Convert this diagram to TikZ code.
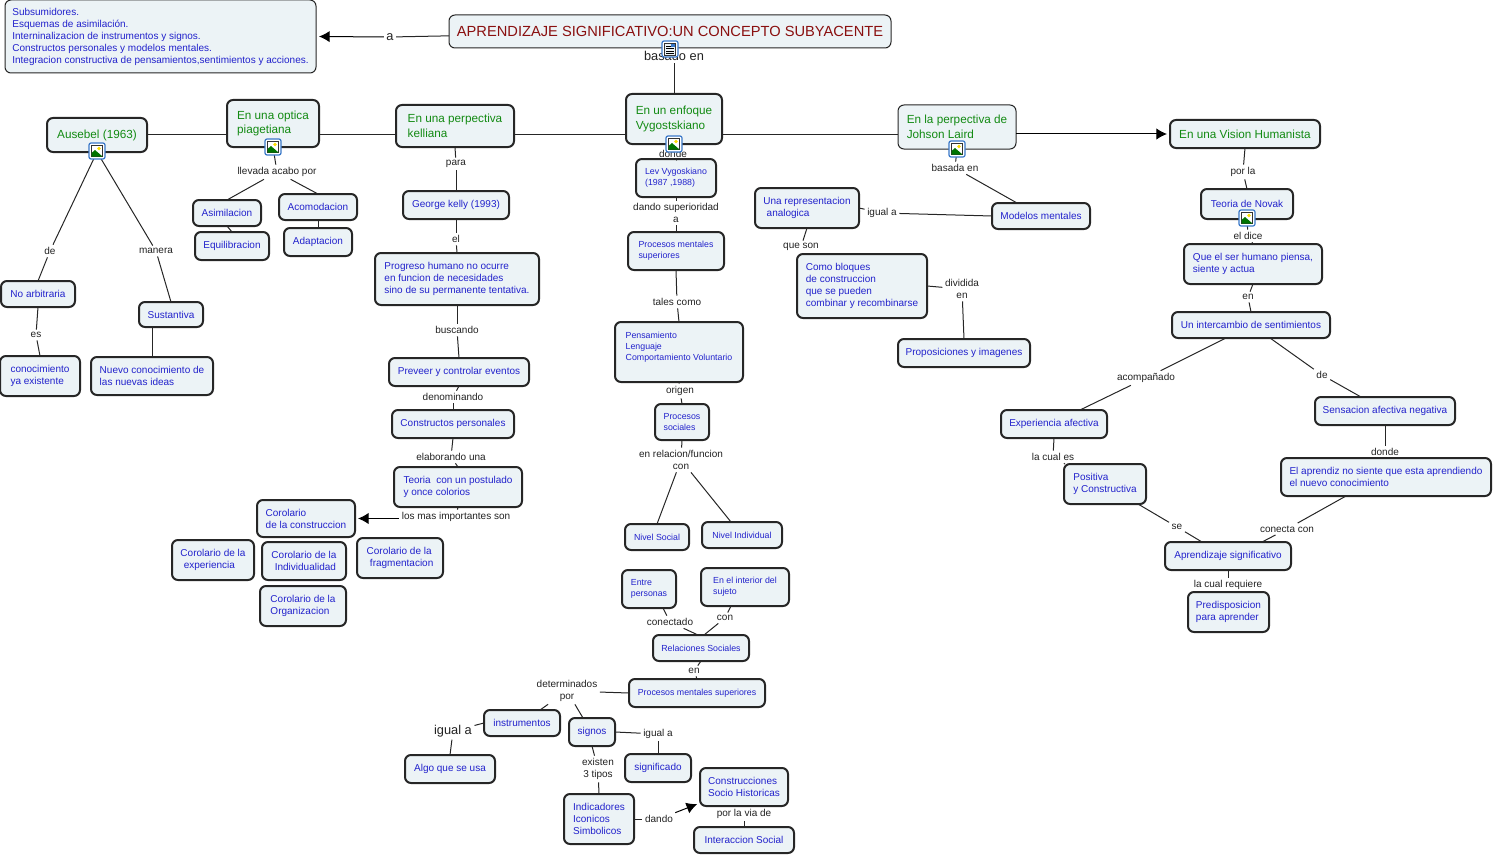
\documentclass[tikz,border=0pt]{standalone}
\usepackage{fontspec}
\setmainfont{Liberation Sans}
\usetikzlibrary{arrows.meta}
\definecolor{boxfill}{HTML}{ECF3F6}
\definecolor{boxblue}{HTML}{2222CC}
\definecolor{boxgreen}{HTML}{128A12}
\definecolor{boxred}{HTML}{8A1010}
\definecolor{labelgray}{HTML}{222222}
\definecolor{iconblue}{HTML}{3A78C8}
\tikzset{
  dim/.style 2 args={minimum width=#1*0.75pt, minimum height=#2*0.75pt},
  concept/.style={draw=black!85, fill=boxfill, rounded corners=4.5pt, line width=1.5pt, inner sep=0pt, outer sep=0pt,
    align=left, text=boxblue, font=\fontsize{7.5}{9}\selectfont},
  small/.style={font=\fontsize{6.6}{8.3}\selectfont},
  branch/.style={text=boxgreen, font=\fontsize{8.8}{11}\selectfont},
  thinbox/.style={line width=0.75pt},
  linkname/.style={text=labelgray, inner sep=2pt, outer sep=0pt, align=center, yshift=-0.75pt, font=\fontsize{7.5}{9}\selectfont},
  bigname/.style={font=\fontsize{9.6}{11}\selectfont},
  link/.style={draw=black!85, line width=0.75pt},
  toarrow/.style={draw=black, line width=0.75pt, -{Latex[length=8pt,width=8.5pt]}, shorten >=2.25pt},
  imgicon/.pic={
    \draw[iconblue, fill=white, line width=0.9pt, rounded corners=1.5pt] (-8,-8) rectangle (8,8);
    \draw[black!80, fill=white, line width=0.7pt] (-5.5,-5.5) rectangle (5.5,5.5);
    \fill[yellow!80!orange] (2,-2.5) circle (1.8);
    \fill[green!45!black] (-5.5,5.5) -- (-5.5,2) -- (-2,-1) -- (5.5,5.5) -- cycle;
  },
  docicon/.pic={
    \draw[iconblue, fill=white, line width=0.9pt, rounded corners=1.5pt] (-8,-8) rectangle (8,8);
    \draw[black!80, fill=boxfill, line width=0.7pt] (-5.5,-6) rectangle (5.5,6);
    \foreach \ypos in {-3,-0.5,2,4} \draw[black, line width=0.6pt] (-4,\ypos) -- (4,\ypos);
    \fill[iconblue] (1,-5) rectangle (4.5,-1.5);
  }
}
\begin{document}
\begin{tikzpicture}[x=0.75pt,y=-0.75pt]
\useasboundingbox (0,0) rectangle (1493,856);

% top of the map
\node[concept,thinbox,dim={442}{33},text=boxred,font=\fontsize{11}{13}\selectfont] (title) at (670,31.5) {APRENDIZAJE SIGNIFICATIVO:UN CONCEPTO SUBYACENTE};
\node[concept,thinbox,dim={311}{73}] (info) at (160.5,36.5) {Subsumidores.\\Esquemas de asimilación.\\Interninalizacion de instrumentos y signos.\\Constructos personales y modelos mentales.\\Integracion constructiva de pensamientos,sentimientos y acciones.};

% branches
\node[concept,branch,dim={100}{34}] (ausebel) at (97,135) {Ausebel (1963)};
\node[concept,branch,dim={92}{47}] (piaget) at (273,123.5) {En una optica\\piagetiana};
\node[concept,branch,dim={118}{42}] (kelly) at (455,126) {En una perpectiva\\kelliana};
\node[concept,branch,dim={96}{50}] (vygotsky) at (674,119) {En un enfoque\\Vygostskiano};
\node[concept,branch,thinbox,dim={118}{44}] (laird) at (957,127) {En la perpectiva de\\Johson Laird};
\node[concept,branch,dim={150}{28}] (humanista) at (1245,134) {En una Vision Humanista};

% ausebel
\node[concept,dim={74}{26}] (noarbitraria) at (38,294) {No arbitraria};
\node[concept,dim={80}{40}] (conocimiento) at (40,376) {conocimiento\\ya existente};
\node[concept,dim={64}{25}] (sustantiva) at (171,314.5) {Sustantiva};
\node[concept,dim={122}{38}] (nuevo) at (152,376) {Nuevo conocimiento de\\las nuevas ideas};

% piaget
\node[concept,dim={68}{26}] (asimilacion) at (227,213) {Asimilacion};
\node[concept,dim={74}{28}] (equilibracion) at (232,246) {Equilibracion};
\node[concept,dim={78}{26}] (acomodacion) at (318,207) {Acomodacion};
\node[concept,dim={68}{28}] (adaptacion) at (318,242) {Adaptacion};

% kelly
\node[concept,dim={106}{28}] (george) at (456,205) {George kelly (1993)};
\node[concept,dim={164}{52}] (progreso) at (457,279) {Progreso humano no ocurre\\en funcion de necesidades\\sino de su permanente tentativa.};
\node[concept,dim={140}{28}] (preveer) at (459,372) {Preveer y controlar eventos};
\node[concept,dim={122}{28}] (constructos) at (453,424) {Constructos personales};
\node[concept,dim={128}{40}] (teoria) at (458,487) {Teoria\ \ con un postulado\\y once colorios};
\node[concept,dim={98}{37}] (corconstruccion) at (306,518.5) {Corolario\\de la construccion};
\node[concept,dim={82}{40}] (corexperiencia) at (213,560) {Corolario de la\\\hspace{2.5pt}experiencia};
\node[concept,dim={84}{38}] (corindividual) at (304,561) {Corolario de la\\\hspace{2.5pt}Individualidad};
\node[concept,dim={86}{40}] (corfragmento) at (400,558) {Corolario de la\\\hspace{2.5pt}fragmentacion};
\node[concept,dim={86}{40}] (cororganiza) at (303,606) {Corolario de la\\Organizacion};

% vygotsky
\node[concept,small,dim={80}{38}] (lev) at (676,178) {Lev Vygoskiano\\(1987 ,1988)};
\node[concept,small,dim={96}{38}] (superiores) at (676,251) {Procesos mentales\\superiores};
\node[concept,small,dim={128}{60}] (pensamiento) at (679,352) {Pensamiento\\Lenguaje\\Comportamiento Voluntario\\~};
\node[concept,small,dim={54}{36}] (psociales) at (682,422) {Procesos\\sociales};
\node[concept,small,dim={64}{26}] (nivelsocial) at (657,537) {Nivel Social};
\node[concept,small,dim={80}{26}] (nivelindividual) at (742,535) {Nivel Individual};
\node[concept,small,dim={54}{38}] (entre) at (649,589) {Entre\\personas};
\node[concept,small,dim={88}{38}] (interior) at (745,587) {En el interior del\\sujeto};
\node[concept,small,dim={96}{26}] (relaciones) at (701,648) {Relaciones Sociales};
\node[concept,small,dim={136}{28}] (superiores2) at (697,693) {Procesos mentales superiores};
\node[concept,dim={76}{26}] (instrumentos) at (522,723) {instrumentos};
\node[concept,dim={46}{28}] (signos) at (592,732) {signos};
\node[concept,dim={90}{28}] (algo) at (450,769) {Algo que se usa};
\node[concept,dim={66}{28}] (significado) at (658,768) {significado};
\node[concept,dim={70}{50}] (indicadores) at (599,819) {Indicadores\\Iconicos\\Simbolicos};
\node[concept,dim={88}{38}] (historicas) at (744,787) {Construcciones\\Socio Historicas};
\node[concept,dim={100}{26}] (interaccion) at (744,840) {Interaccion Social};

% laird
\node[concept,dim={104}{40}] (representacion) at (807,208) {Una representacion\\\hspace{2.5pt}analogica};
\node[concept,dim={130}{64}] (bloques) at (862,286) {Como bloques\\de construccion\\que se pueden\\combinar y recombinarse};
\node[concept,dim={98}{26}] (modelos) at (1041,216) {Modelos mentales};
\node[concept,dim={132}{28}] (proposiciones) at (964,353) {Proposiciones y imagenes};

% humanista
\node[concept,dim={92}{30}] (novak) at (1247,204) {Teoria de Novak};
\node[concept,dim={138}{40}] (piensa) at (1253,264) {Que el ser humano piensa,\\siente y actua};
\node[concept,dim={158}{26}] (intercambio) at (1251,325) {Un intercambio de sentimientos};
\node[concept,dim={106}{28}] (experiencia) at (1054,424) {Experiencia afectiva};
\node[concept,dim={140}{28}] (sensacion) at (1385,411) {Sensacion afectiva negativa};
\node[concept,dim={210}{38}] (aprendiz) at (1386,477) {El aprendiz no siente que esta aprendiendo\\el nuevo conocimiento};
\node[concept,dim={82}{40}] (positiva) at (1105,484) {Positiva\\y Constructiva};
\node[concept,dim={126}{28}] (significativo) at (1228,556) {Aprendizaje significativo};
\node[concept,dim={81}{40}] (predisposicion) at (1228.5,612) {Predisposicion\\para aprender};

% linking phrases
\node[linkname,bigname] (la) at (390,36) {a};
\node[linkname,bigname] (lbasado) at (674,55) {basado en};
\node[linkname] (lde) at (50,250) {de};
\node[linkname] (lmanera) at (156,250) {manera};
\node[linkname] (les) at (36,334) {es};
\node[linkname] (lllevada) at (277,171) {llevada acabo por};
\node[linkname] (lpara) at (456,163) {para};
\node[linkname] (lel) at (456,238) {el};
\node[linkname] (lbuscando) at (457,329) {buscando};
\node[linkname] (ldenominando) at (453,396) {denominando};
\node[linkname] (lelaborando) at (451,456) {elaborando una};
\node[linkname] (limportantes) at (456,516) {los mas importantes son};
\node[linkname] (ldonde) at (673,153) {donde};
\node[linkname] (ldando) at (676,212) {dando superioridad\\a};
\node[linkname] (ltales) at (677,301) {tales como};
\node[linkname] (lorigen) at (680,390) {origen};
\node[linkname] (lrelacion) at (681,459) {en relacion/funcion\\con};
\node[linkname] (lconectado) at (670,621) {conectado};
\node[linkname] (lcon) at (725,617) {con};
\node[linkname] (len) at (694,670) {en};
\node[linkname] (ldeterminados) at (567,690) {determinados\\por};
\node[linkname,bigname] (liguala) at (453,730) {igual a};
\node[linkname] (lsignificado) at (658,733) {igual a};
\node[linkname] (lexisten) at (598,768) {existen\\3 tipos};
\node[linkname] (ldandolo) at (659,818) {dando};
\node[linkname] (lvia) at (744,813) {por la via de};
\node[linkname] (lanalogo) at (882,212) {igual a};
\node[linkname] (lqueson) at (801,246) {que son};
\node[linkname] (lbasada) at (955,167) {basada en};
\node[linkname] (ldividida) at (962,288) {dividida\\en};
\node[linkname] (lporla) at (1243,171) {por la};
\node[linkname] (ldice) at (1248,235) {el dice};
\node[linkname] (lensiente) at (1248,296) {en};
\node[linkname] (lacompanado) at (1146,377) {acompañado};
\node[linkname] (ldenegativa) at (1322,374) {de};
\node[linkname] (lcual) at (1053,456) {la cual es};
\node[linkname] (ldondenuevo) at (1385,451) {donde};
\node[linkname] (lse) at (1177,526) {se};
\node[linkname] (lconecta) at (1287,528) {conecta con};
\node[linkname] (lrequiere) at (1228,584) {la cual requiere};

% straight chains, anchor to anchor
\foreach \a/\b in {ausebel/piaget,piaget/kelly,kelly/vygotsky,vygotsky/laird}
  \draw[link] (\a.east |- ausebel) -- (\b.west |- ausebel);
\draw[toarrow] (laird.east |- humanista) -- (humanista.west);
\draw[toarrow] (limportantes.west |- corconstruccion) -- (corconstruccion.east);
\draw[toarrow] (la) -- (info.east);
\draw[toarrow] (ldandolo) -- ([yshift=2.25pt]historicas.south west);

% from a concept down to its phrase
\foreach \a/\b in {ausebel/lde,ausebel/lmanera,piaget/lllevada,kelly/lpara,george/lel,progreso/lbuscando,
  preveer/ldenominando,constructos/lelaborando,teoria/limportantes,noarbitraria/les,lev/ldando,superiores/ltales,
  pensamiento/lorigen,psociales/lrelacion,relaciones/len,signos/lexisten,historicas/lvia,representacion/lqueson,
  laird/lbasada,humanista/lporla,novak/ldice,piensa/lensiente,experiencia/lcual,sensacion/ldondenuevo,
  significativo/lrequiere,vygotsky/ldonde}
  \draw[link] (\a.south) -- (\b);

% from a phrase down to its concept
\foreach \a/\b in {lde/noarbitraria,lmanera/sustantiva,les/conocimiento,lllevada/asimilacion,lllevada/acomodacion,
  lpara/george,lel/progreso,lbuscando/preveer,ldenominando/constructos,lelaborando/teoria,ldonde/lev,ldando/superiores,
  ltales/pensamiento,lorigen/psociales,lrelacion/nivelsocial,len/superiores2,lsignificado/significado,liguala/algo,
  lexisten/indicadores,lvia/interaccion,lporla/novak,ldice/piensa,lensiente/intercambio,ldondenuevo/aprendiz,
  lrequiere/predisposicion,ldividida/proposiciones,lbasado/vygotsky}
  \draw[link] (\a) -- (\b.north);

% the rest leave or reach a box off its middle
\draw[link] (title) -- (la);
\draw[link] (title) -- (lbasado);
\draw[link] (sustantiva.south -| nuevo.north) -- (nuevo.north);
\draw[link] (asimilacion.south) -- (equilibracion.north);
\draw[link] (acomodacion.south) -- (adaptacion.north);
\draw[link] (lrelacion) -- ([xshift=-8.25pt]nivelindividual.north);
\draw[link] (lconectado) -- ([xshift=10.5pt]entre.south);
\draw[link] (lcon) -- ([xshift=-10.5pt]interior.south);
\draw[link] (lconectado) -- ([xshift=-2.25pt]relaciones.north);
\draw[link] (lcon) -- ([xshift=2.25pt]relaciones.north);
\draw[link] (superiores2.west) -- (ldeterminados);
\draw[link] (ldeterminados) -- ([xshift=13.5pt]instrumentos.north);
\draw[link] (ldeterminados) -- ([xshift=-6.75pt]signos.north);
\draw[link] (instrumentos.west) -- (liguala);
\draw[link] (signos.east) -- (lsignificado);
\draw[link] (indicadores.east) -- (ldandolo);
\draw[link] (representacion.east) -- (lanalogo);
\draw[link] (lanalogo) -- (modelos.west);
\draw[link] (lqueson) -- ([xshift=-39pt]bloques.north);
\draw[link] (bloques.east) -- (ldividida);
\draw[link] (lbasada) -- ([xshift=-18pt]modelos.north);
\draw[link] ([xshift=-18.75pt]intercambio.south) -- (lacompanado);
\draw[link] (lacompanado) -- ([xshift=19.5pt]experiencia.north);
\draw[link] ([xshift=14.25pt]intercambio.south) -- (ldenegativa);
\draw[link] (ldenegativa) -- ([xshift=-18pt]sensacion.north);
\draw[link] (lcual) -- ([xshift=-30pt]positiva.north);
\draw[link] ([xshift=24.75pt]positiva.south) -- (lse);
\draw[link] (lse) -- ([xshift=-19.5pt]significativo.north);
\draw[link] ([xshift=-30pt]aprendiz.south) -- (lconecta);
\draw[link] (lconecta) -- ([xshift=25.5pt]significativo.north);

% icons sit on top
\pic at (670,49) {docicon};
\pic at (97,151) {imgicon};
\pic at (273,147) {imgicon};
\pic at (674,144) {imgicon};
\pic at (957,149) {imgicon};
\pic at (1247,218) {imgicon};

\end{tikzpicture}
\end{document}
